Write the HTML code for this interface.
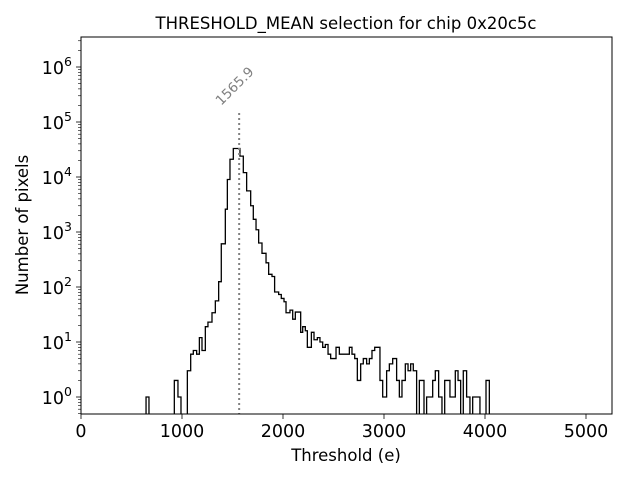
<!DOCTYPE html>
<html><head><meta charset="utf-8"><style>
body{margin:0;background:#fff}
svg text{font-family:"DejaVu Sans","Liberation Sans",sans-serif}
</style></head><body>
<svg id="chart" width="640" height="480" viewBox="0 0 640 480" xmlns="http://www.w3.org/2000/svg">
<rect width="640" height="480" fill="#fff"/>
<text x="346" y="29" font-size="16.5" text-anchor="middle">THRESHOLD_MEAN selection for chip 0x20c5c</text>
<g id="plot"></g>
<text x="346" y="461" font-size="16.5" text-anchor="middle">Threshold (e)</text>
<text transform="translate(28,225) rotate(-90)" font-size="16.5" text-anchor="middle">Number of pixels</text>
</svg>
<script>
const binLeft=[644,924,960,1053,1086,1112,1145,1172,1198,1231,1257,1297,1330,1363,1389,1429,1449,1475,1508,1541,1574,1607,1640,1680,1706,1733,1759,1792,1832,1858,1891,1917,1957,1983,2010,2030,2069,2096,2122,2142,2175,2195,2221,2241,2281,2307,2340,2366,2393,2419,2446,2472,2498,2525,2558,2657,2683,2710,2736,2769,2795,2828,2855,2881,2908,2960,2987,3026,3053,3086,3125,3152,3178,3211,3238,3264,3290,3350,3422,3482,3508,3541,3601,3653,3706,3733,3785,3818,3878,4010];
const binRight=[673,960,990,1086,1112,1145,1172,1198,1231,1257,1297,1330,1363,1389,1429,1449,1475,1508,1541,1574,1607,1640,1680,1706,1733,1759,1792,1832,1858,1891,1917,1957,1983,2010,2030,2069,2096,2122,2142,2175,2195,2221,2241,2281,2307,2340,2366,2393,2419,2446,2472,2498,2525,2558,2657,2683,2710,2736,2769,2795,2828,2855,2881,2908,2960,2987,3026,3053,3086,3125,3152,3178,3211,3238,3264,3290,3323,3396,3482,3508,3541,3574,3653,3706,3733,3759,3818,3851,3950,4043];
const counts=[1,2,1,3,6,7,6,12,7,19,23,34,56,125,610,2600,9000,21000,33000,33000,24000,12000,5600,3000,1700,1100,630,410,275,170,155,81,73,62,54,34,38,26,35,35,15,19,16,8,15,11,12,10,8,9,6,5,5,8,6,8,6,5,2,4,5,4,5,7,8,2,1,3,4,5,2,1,2,4,3,4,3,2,1,2,3,1,2,1,3,2,3,1,1,2];
const markerValue=1565.9;
const xTicks=[0,1000,2000,3000,4000,5000];
const yTickExps=[0,1,2,3,4,5,6];

const L=81,R=612,T=37,B=414;
const xs=v=>L+v*0.101;
const ys=v=>397-55*Math.log10(v);
const NS='http://www.w3.org/2000/svg';
const g=document.getElementById('plot');
function mk(tag,attrs,parent){const e=document.createElementNS(NS,tag);for(const k in attrs)e.setAttribute(k,attrs[k]);(parent||g).appendChild(e);return e;}

const clip=mk('clipPath',{id:'pc'});mk('rect',{x:L,y:T,width:R-L,height:B-T},clip);
let d='';let prevR=null;
for(let i=0;i<counts.length;i++){
  const x0=xs(binLeft[i]),x1=xs(binRight[i]),y=counts[i]>0?ys(counts[i]):B+2;
  if(prevR===null){d+=`M${x0},${B+2}`;}
  else if(Math.abs(binLeft[i]-prevR)>1){d+=`L${xs(prevR)},${B+2}L${x0},${B+2}`;}
  d+=`L${x0},${y}L${x1},${y}`;prevR=binRight[i];
}
d+=`L${xs(prevR)},${B+2}`;
const hist=mk('path',{d:d,fill:'none',stroke:'#000','stroke-width':1.3,'clip-path':'url(#pc)'});



const mx=xs(markerValue);
const ml=mk('line',{x1:mx,x2:mx,y1:113,y2:B,stroke:'#808080','stroke-width':2,'stroke-dasharray':'2,3'});


const mt=mk('text',{transform:`translate(${mx-18},106) rotate(-45)`,'font-size':13.5,fill:'#808080'});
mt.textContent=markerValue.toFixed(1);



const fr=mk('rect',{x:L,y:T,width:R-L,height:B-T,fill:'none',stroke:'#000','stroke-width':1});



xTicks.forEach(v=>{
  const x=xs(v);
  const t=mk('line',{x1:x,x2:x,y1:B,y2:B+5,stroke:'#000','stroke-width':0.8});
  
  
  const lb=mk('text',{x:x,y:B+23,'font-size':17.5,'text-anchor':'middle'});
  lb.textContent=v;
  
  
});
yTickExps.forEach(e=>{
  const y=ys(Math.pow(10,e));
  const t=mk('line',{x1:L-5,x2:L,y1:y,y2:y,stroke:'#000','stroke-width':0.8});
  
  
  const lb=mk('text',{x:L-9,y:y+7,'font-size':17.5,'text-anchor':'end'});
  
  
  const a=mk('tspan',{},lb);a.textContent='10';
  const s=mk('tspan',{dy:-8,'font-size':12.5},lb);s.textContent=e;
});
for(let e=-1;e<=6;e++){for(let m=2;m<=9;m++){const v=m*Math.pow(10,e);const y=ys(v);if(y<T||y>B)continue;
  const t=mk('line',{x1:L-3,x2:L,y1:y,y2:y,stroke:'#000','stroke-width':0.6});
  
  }}
</script>
</body></html>
